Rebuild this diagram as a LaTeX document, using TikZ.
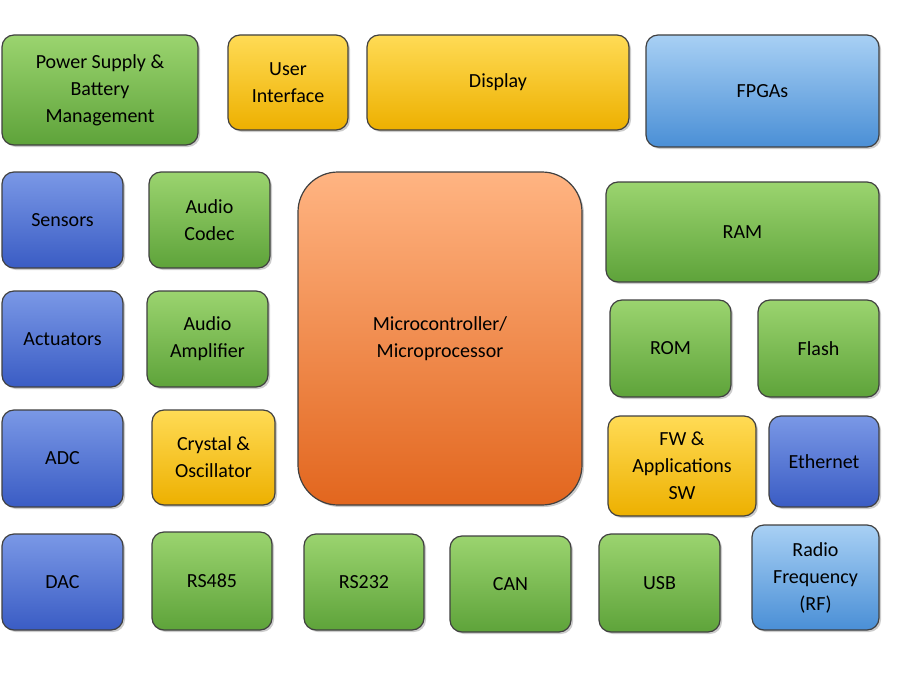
\documentclass[tikz,border=0pt]{standalone}
\usepackage{fontspec}
\setmainfont{Carlito}
\usetikzlibrary{shadows}
\definecolor{gT}{HTML}{9BD46F}\definecolor{gB}{HTML}{5EA33A}
\definecolor{bT}{HTML}{7A98E6}\definecolor{bB}{HTML}{3A5CC4}
\definecolor{lT}{HTML}{A8D0F4}\definecolor{lB}{HTML}{4A8FD6}
\definecolor{yT}{HTML}{FFDB55}\definecolor{yB}{HTML}{EDB000}
\definecolor{oT}{HTML}{FFB482}\definecolor{oB}{HTML}{E2661E}
\tikzset{
 blk/.style={rounded corners=12pt, draw=black!75, line width=1.2pt, drop shadow={shadow xshift=2pt,shadow yshift=-2pt,opacity=0.4}, align=center, font=\fontsize{20}{27}\selectfont, inner sep=0pt},
 grn/.style={blk, top color=gT, bottom color=gB},
 blu/.style={blk, top color=bT, bottom color=bB},
 lbl/.style={blk, top color=lT, bottom color=lB},
 yel/.style={blk, top color=yT, bottom color=yB},
 org/.style={blk, top color=oT, bottom color=oB, rounded corners=40pt},
}
\newcommand{\bx}[7]{\node[#6, minimum width=#4pt-#2pt, minimum height=#5pt-#3pt] (#1) at ({(#2+#4)/2*1pt},{-(#3+#5)/2*1pt}) {#7};}
\begin{document}
\begin{tikzpicture}
\useasboundingbox (0,0) rectangle (900pt,-677pt);
\bx{ps}{2}{35}{198}{145}{grn}{Power Supply \&\\Battery\\Management}
\bx{ui}{228}{35}{348}{130}{yel}{User\\Interface}
\bx{disp}{367}{35}{629}{130}{yel}{Display}
\bx{fpga}{646}{35}{879}{147}{lbl}{FPGAs}
\bx{sens}{2}{172}{123}{268}{blu}{Sensors}
\bx{codec}{149}{172}{270}{268}{grn}{Audio\\Codec}
\bx{mcu}{298}{172}{582}{505}{org}{Microcontroller/\\Microprocessor}
\bx{ram}{606}{182}{879}{282}{grn}{RAM}
\bx{act}{2}{291}{123}{387}{blu}{Actuators}
\bx{amp}{147}{291}{268}{387}{grn}{Audio\\Amplifier}
\bx{rom}{610}{300}{731}{397}{grn}{ROM}
\bx{flash}{758}{300}{879}{397}{grn}{Flash}
\bx{adc}{2}{410}{123}{507}{blu}{ADC}
\bx{xtal}{152}{410}{275}{505}{yel}{Crystal \&\\Oscillator}
\bx{fw}{608}{416}{756}{516}{yel}{FW \&\\Applications\\SW}
\bx{eth}{769}{416}{879}{507}{blu}{Ethernet}
\bx{dac}{2}{534}{123}{630}{blu}{DAC}
\bx{rs485}{152}{532}{272}{630}{grn}{RS485}
\bx{rs232}{304}{534}{424}{630}{grn}{RS232}
\bx{can}{450}{536}{571}{632}{grn}{CAN}
\bx{usb}{599}{534}{720}{632}{grn}{USB}
\bx{rf}{752}{525}{879}{630}{lbl}{Radio\\Frequency\\(RF)}
\end{tikzpicture}
\end{document}
